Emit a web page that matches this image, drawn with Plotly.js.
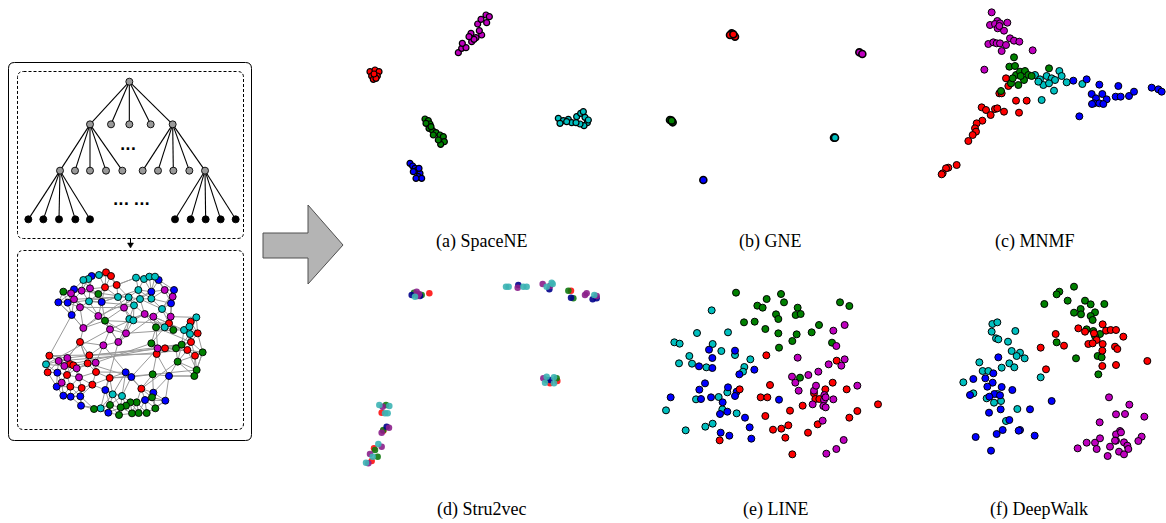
<!DOCTYPE html>
<html><head><meta charset="utf-8">
<script src="https://cdn.plot.ly/plotly-3.0.1.min.js"></script>
<style>html,body{margin:0;padding:0;background:#fff}#chart{width:1166px;height:523px}</style>
</head><body><div id="chart"></div>
<script>
// ---------------- DATA ----------------
// Captions
const captions = ["(a) SpaceNE", "(b) GNE", "(c) MNMF", "(d) Stru2vec", "(e) LINE", "(f) DeepWalk"];

// Tree diagram nodes (local units), parent index, fill type
const treeX = [388, 270,333,388,452,518, 180,225,270,318,367, 428,474,520,568,615, 85,130,177,226,270, 525,572,617,662,707];
const treeY = [80, 208,208,208,208,208, 347,347,347,347,347, 347,347,347,347,347, 493,493,493,493,493, 493,493,493,493,493];
const treeParent = [-1, 0,0,0,0,0, 1,1,1,1,1, 5,5,5,5,5, 6,6,6,6,6, 15,15,15,15,15];
const treeLeaf = [0, 0,0,0,0,0, 0,0,0,0,0, 0,0,0,0,0, 1,1,1,1,1, 1,1,1,1,1];

// Network illustration nodes [x, y, class]
const netNodes = [
 [318,97,'r'],[333,108,'r'],[297,105,'c'],[275,108,'b'],[265,117,'c'],[250,120,'c'],[350,135,'r'],[315,142,'r'],
 [270,145,'m'],[245,152,'m'],[222,148,'b'],[213,160,'m'],[190,155,'g'],[295,162,'g'],[222,178,'m'],[203,188,'b'],
 [175,187,'b'],[267,184,'c'],[305,186,'b'],[240,202,'m'],[215,225,'b'],[295,228,'m'],[315,242,'g'],[250,264,'m'],
 [330,268,'m'],[378,280,'m'],[240,306,'r'],[310,316,'m'],[355,306,'m'],
 [408,113,'c'],[432,117,'c'],[448,110,'c'],[465,110,'c'],[476,120,'b'],[415,150,'c'],[454,155,'b'],[494,150,'m'],
 [522,150,'b'],[518,170,'m'],[354,171,'c'],[386,172,'c'],[420,177,'c'],[454,176,'c'],[513,190,'b'],[402,196,'c'],
 [372,203,'m'],[486,207,'c'],[434,222,'m'],[460,230,'m'],[512,230,'m'],[388,237,'c'],[400,241,'c'],[507,250,'r'],
 [572,245,'r'],[589,232,'c'],[468,262,'g'],[494,262,'c'],[520,270,'g'],[552,270,'c'],[568,260,'c'],[570,282,'c'],
 [593,280,'r'],[454,310,'g'],[473,325,'m'],[495,325,'r'],[528,325,'g'],[545,314,'g'],[573,306,'r'],[562,330,'r'],
 [470,342,'r'],[608,337,'g'],[585,347,'r'],[533,365,'g'],
 [148,347,'r'],[176,363,'m'],[202,354,'m'],[138,373,'c'],[193,378,'m'],[210,372,'r'],[220,376,'r'],[230,385,'m'],
 [268,346,'r'],[263,370,'r'],[287,368,'m'],[143,397,'r'],[172,398,'b'],[201,405,'r'],[237,412,'m'],[288,396,'r'],
 [185,428,'m'],[170,440,'b'],[211,440,'r'],[245,444,'r'],[277,434,'r'],[329,414,'r'],[190,467,'b'],[212,470,'b'],
 [241,469,'b'],[243,497,'b'],
 [377,397,'b'],[394,411,'b'],[458,403,'g'],[507,408,'b'],[590,390,'g'],[583,408,'g'],[316,450,'b'],[338,463,'c'],
 [366,468,'c'],[424,446,'r'],[460,458,'b'],[456,472,'g'],[435,480,'b'],[410,487,'g'],[391,487,'g'],[378,497,'g'],
 [362,502,'g'],[282,507,'g'],[302,505,'c'],[330,495,'g'],[325,518,'b'],[357,525,'g'],[396,520,'g'],[416,519,'g'],
 [440,519,'g'],[466,505,'g'],[496,482,'b']
];
// Long edges of the network [x1,y1,x2,y2]
const netLongEdges = [
 [148,347,470,342],[176,363,562,330],[202,354,545,314],[210,372,573,306],[268,346,495,325],[287,368,454,310],
 [138,373,330,268],[215,225,148,347],[240,306,202,354],[295,228,454,155],[305,186,415,150],[330,268,434,222],
 [355,306,460,230],[378,280,520,270],[310,316,377,397],[355,306,316,450],[329,414,458,403],[458,403,590,390],
 [507,408,583,408],[424,446,533,365],[394,411,473,325],[250,264,386,172],[222,178,354,171],[315,242,507,250],
 [240,202,372,203],[288,396,377,397],[263,370,394,411],[215,225,250,264],[175,187,215,225],[240,306,263,370],
 [190,155,315,142],[203,188,354,171],[245,152,386,172],[267,184,402,196],[222,178,295,228],[350,135,408,113],
 [420,177,486,207],[454,176,513,190],[460,230,552,270],[434,222,494,262],[512,230,589,232],[468,262,573,306]
];

// (a) SpaceNE
const spaceneM = [[325,158],[335,145],[348,143],[337,130],[365,125],[378,113],[395,105],[363,100],[388,92],[383,72],[393,58],[408,45],[418,50],[410,68],[372,118],[357,110]];
const spaceneR = [[60,215],[75,210],[87,215],[65,228],[82,228],[70,238],[78,235],[72,222]];
const spaceneG = [[225,357],[235,362],[240,372],[237,385],[248,392],[258,398],[270,405],[280,410],[283,425],[272,433],[265,420],[250,405],[228,370],[243,380]];
const spaceneB = [[180,490],[188,498],[195,505],[200,512],[210,520],[205,530],[215,535],[198,535],[190,515],[207,505]];
const spaceneC = [[625,355],[640,362],[630,370],[655,358],[665,368],[680,350],[692,340],[700,335],[705,352],[712,368],[702,377],[690,372],[715,360],[678,368],[650,365]];

// (b) GNE
const gneR = [[305,100],[315,110],[300,105],[310,103]];
const gneM = [[688,157],[697,162]];
const gneG = [[120,360],[128,367],[125,362]];
const gneC = [[612,413],[615,413]];
const gneB = [[220,540]];

// (c) MNMF
const mnmfM = [[275,37],[292,63],[270,75],[285,72],[300,70],[322,68],[293,85],[312,92],[298,78],[265,132],[280,127],[290,130],[300,130],[318,135],[330,115],[342,122],[358,125],[305,153],[398,151],[253,209]];
const mnmfG = [[342,172],[328,200],[345,198],[348,225],[360,215],[375,213],[385,225],[372,240],[355,255],[333,250],[303,273],[447,205],[338,235],[362,228],[395,228]];
const mnmfC = [[405,225],[420,238],[440,228],[455,235],[465,240],[478,213],[485,228],[500,247],[547,252],[462,272],[425,300],[430,255],[447,250],[415,245]];
const mnmfB = [[520,242],[560,238],[598,254],[655,258],[575,282],[588,295],[607,282],[620,298],[582,310],[598,310],[610,312],[647,290],[662,290],[687,288],[702,275],[755,263],[775,268],[785,275],[538,349],[576,312]];
const mnmfR = [[318,235],[325,258],[298,280],[305,280],[348,302],[380,302],[245,322],[258,330],[272,345],[285,327],[292,325],[312,335],[357,338],[247,362],[230,370],[225,385],[228,395],[218,405],[205,423],[170,495],[145,503],[138,505],[128,520],[125,523]];

// (d) Stru2vec
const struC = [[195,110],[468,80],[476,80],[520,80],[530,80],[590,80],[605,68],[608,72],[733,105],[590,350],[612,352],[585,368],[612,370],[88,435],[118,438],[105,460],[113,460],[85,552],[68,590],[48,608]];
const struM = [[200,95],[207,102],[203,108],[503,83],[578,72],[600,78],[705,105],[710,100],[740,108],[580,355],[98,440],[117,503],[95,518],[95,560],[60,582],[55,610]];
const struB = [[185,105],[210,108],[505,75],[598,88],[663,113],[728,118],[740,115],[600,360],[110,500]];
const struG = [[192,98],[215,105],[655,92],[670,115],[620,355],[590,360],[108,435],[100,510],[75,570],[83,590]];
const struR = [[238,100],[663,92],[600,370],[622,363],[95,458],[100,512],[72,565],[65,603]];

// (e) LINE
const lineG = [[288,68],[380,87],[423,72],[432,97],[352,107],[368,113],[473,113],[408,133],[467,135],[482,132],[415,147],[312,157],[344,155],[376,177],[415,190],[470,193],[515,187],[537,165],[457,213],[417,233],[576,218],[600,97],[628,108],[480,323]];
const lineM = [[614,165],[580,182],[589,228],[614,268],[566,283],[604,287],[473,263],[456,320],[466,338],[505,315],[535,305],[476,362],[522,362],[528,347],[553,375],[552,390],[580,388],[557,382],[518,403],[550,408],[557,412],[548,452],[652,347],[611,510],[589,537],[559,551]];
const lineR = [[379,256],[590,272],[578,338],[390,345],[299,358],[362,382],[382,382],[556,358],[620,358],[522,370],[526,387],[538,387],[488,407],[450,422],[376,438],[445,466],[424,476],[399,479],[436,503],[504,488],[533,463],[628,443],[652,423],[714,403],[239,511],[457,553]];
const lineC = [[215,121],[171,189],[264,187],[103,217],[119,221],[218,222],[244,243],[285,255],[148,258],[117,280],[156,281],[199,292],[313,291],[309,305],[331,268],[262,367],[236,381],[168,388],[247,418],[290,430],[78,421],[218,461],[196,470],[137,481]];
const lineB = [[207,239],[285,242],[217,264],[177,289],[217,294],[343,299],[298,313],[195,340],[178,359],[264,352],[290,365],[285,378],[213,382],[183,387],[92,382],[248,397],[262,425],[240,432],[315,443],[329,472],[417,389],[242,488],[268,497],[334,506]];

// (f) DeepWalk
const dwG = [[462,50],[418,65],[410,73],[373,102],[443,92],[495,92],[512,103],[553,102],[482,117],[462,128],[483,133],[525,127],[512,138],[518,150],[500,178],[520,183],[540,192],[525,198],[410,217],[468,265],[533,258],[545,262],[535,313]];
const dwR = [[548,163],[475,175],[495,185],[522,190],[558,182],[572,180],[588,180],[530,210],[505,222],[518,220],[548,222],[610,200],[585,230],[592,237],[547,242],[407,192],[432,227],[362,233],[547,288],[588,285],[682,273],[378,298]];
const dwC = [[217,162],[232,157],[215,185],[286,183],[228,205],[235,208],[264,215],[275,243],[300,248],[290,258],[314,265],[245,293],[268,280],[283,292],[178,277],[188,303],[205,303],[130,337],[160,370],[200,385],[222,398],[243,393],[292,417],[258,453],[362,322],[232,372]];
const dwB = [[235,262],[220,310],[160,327],[196,325],[218,338],[202,350],[245,351],[277,360],[150,375],[223,372],[240,376],[208,380],[242,418],[207,428],[330,418],[395,393],[268,450],[248,480],[300,480],[296,482],[230,492],[167,501],[344,497],[213,542]];
const dwM = [[567,382],[628,404],[588,433],[615,432],[673,440],[539,457],[600,483],[588,493],[603,487],[665,500],[655,513],[500,518],[525,518],[540,505],[473,535],[530,537],[570,530],[588,512],[612,517],[622,527],[625,537],[597,545],[612,553],[563,558],[585,512]];

// ---------------- STYLE / LAYOUT ----------------
const COL = {r:'#ff0000', b:'#0000ff', c:'#00bfbf', m:'#bf00bf', g:'#008000'};
const COLD = {r:'#ff1010', b:'#00008b', c:'#3cb4b4', m:'#8b1f8b', g:'#0f7a0f'};
const W = 1166, H = 523;
const layout = {
  width: W, height: H, margin:{l:0,r:0,t:0,b:0}, showlegend:false,
  paper_bgcolor:'#fff', plot_bgcolor:'rgba(0,0,0,0)',
  shapes: [], annotations: []
};
const traces = [];
function setAx(n, x0, y0, w, h, full) {
  const xs = n===1?'xaxis':'xaxis'+n, ys = n===1?'yaxis':'yaxis'+n;
  layout[xs] = {domain:[x0/W,(x0+w)/W], range: full?[0,w]:[0,3*w], visible:false, fixedrange:true, anchor: n===1?'y':'y'+n};
  layout[ys] = {domain:[1-(y0+h)/H, 1-y0/H], range: full?[h,0]:[3*h,0], visible:false, fixedrange:true, anchor: n===1?'x':'x'+n};
}
setAx(1, 0, 0, W, H, true);       // decoration / captions (pixel units)
setAx(2, 350, 0, 260, 200);       // a
setAx(3, 630, 0, 260, 200);       // b
setAx(4, 900, 0, 266, 200);       // c
setAx(5, 350, 260, 280, 220);     // d
setAx(6, 640, 270, 260, 200);     // e
setAx(7, 920, 270, 246, 200);     // f
setAx(8, 0, 55, 260, 190);        // tree
setAx(9, 0, 240, 260, 200);       // network

function sc(pts, color, n, size, lw, lineColor, opacity) {
  traces.push({type:'scatter', mode:'markers', xaxis:'x'+n, yaxis:'y'+n,
    x: pts.map(p=>p[0]), y: pts.map(p=>p[1]), hoverinfo:'skip',
    marker:{color:color, size:size, opacity: opacity===undefined?1:opacity,
      line:{color:lineColor||'#000', width:lw}}});
}

// --- decorations
function rr(x0,y0,x1,y1,r){
  return `M${x0+r},${y0} L${x1-r},${y0} Q${x1},${y0} ${x1},${y0+r} L${x1},${y1-r} Q${x1},${y1} ${x1-r},${y1} L${x0+r},${y1} Q${x0},${y1} ${x0},${y1-r} L${x0},${y0+r} Q${x0},${y0} ${x0+r},${y0} Z`;
}
layout.shapes.push({type:'path', xref:'x', yref:'y', path: rr(8.5,62.5,251.5,440.5,6), line:{color:'#000', width:1}});
layout.shapes.push({type:'path', xref:'x', yref:'y', path: rr(17.5,71.5,243.5,238.5,6), line:{color:'#000', width:1, dash:'3px,2px'}});
layout.shapes.push({type:'path', xref:'x', yref:'y', path: rr(17.5,250.5,243.5,429.5,6), line:{color:'#000', width:1, dash:'3px,2px'}});
layout.shapes.push({type:'line', xref:'x', yref:'y', x0:130.5, y0:238, x1:130.5, y1:245, line:{color:'#000', width:1}});
layout.shapes.push({type:'path', xref:'x', yref:'y', path:'M127.5,243 L133.5,243 L130.5,248 Z', fillcolor:'#000', line:{color:'#000', width:0.5}});
layout.shapes.push({type:'path', xref:'x', yref:'y', path:'M263,233 L308,233 L308,205 L343,245 L308,284 L308,258 L263,258 Z', fillcolor:'#b4b4b4', line:{color:'#505050', width:1}});

// --- tree
const ex=[], ey=[];
treeX.forEach((x,i)=>{ const p=treeParent[i]; if(p>=0){ ex.push(treeX[p], x, null); ey.push(treeY[p], treeY[i], null);} });
traces.push({type:'scatter', mode:'lines', xaxis:'x8', yaxis:'y8', x:ex, y:ey, hoverinfo:'skip', line:{color:'#000', width:1.1}});
traces.push({type:'scatter', mode:'markers', xaxis:'x8', yaxis:'y8', x:treeX, y:treeY, hoverinfo:'skip',
  marker:{size:7, color: treeLeaf.map(l=>l?'#000':'#999'), line:{color:'#000', width:0.9}}});
layout.annotations.push({xref:'x8', yref:'y8', x:385, y:270, text:'<b>...</b>', showarrow:false, font:{family:'DejaVu Sans', size:14, color:'#000'}, yanchor:'middle'});
layout.annotations.push({xref:'x8', yref:'y8', x:395, y:435, text:'<b>... ...</b>', showarrow:false, font:{family:'DejaVu Sans', size:14, color:'#000'}, yanchor:'middle'});

// --- network edges: each node linked to its nearest neighbours, plus long edges
const nx=[], ny=[];
const seen = new Set();
netNodes.forEach((a,i)=>{
  const d = netNodes.map((b,j)=>[j, (a[0]-b[0])**2+(a[1]-b[1])**2]).filter(q=>q[0]!==i).sort((p,q)=>p[1]-q[1]);
  for(let k=0;k<5;k++){ const j=d[k][0]; const key=Math.min(i,j)+'-'+Math.max(i,j); if(seen.has(key)) continue; seen.add(key);
    nx.push(a[0], netNodes[j][0], null); ny.push(a[1], netNodes[j][1], null); }
});
netLongEdges.forEach(e=>{ nx.push(e[0],e[2],null); ny.push(e[1],e[3],null); });
traces.push({type:'scatter', mode:'lines', xaxis:'x9', yaxis:'y9', x:nx, y:ny, hoverinfo:'skip', line:{color:'#9a9a9a', width:1}});
['r','b','c','m','g'].forEach(k=>{
  sc(netNodes.filter(p=>p[2]===k), COL[k], 9, 7, 0.9);
});

// --- panels
sc(spaceneM, COL.m, 2, 6, 1.2); sc(spaceneR, COL.r, 2, 6, 1.2); sc(spaceneG, COL.g, 2, 6, 1.2); sc(spaceneB, COL.b, 2, 6, 1.2); sc(spaceneC, COL.c, 2, 6, 1.2);
sc(gneR, COL.r, 3, 7, 1.6); sc(gneM, COL.m, 3, 7, 1.6); sc(gneG, COL.g, 3, 7, 1.6); sc(gneC, COL.c, 3, 7, 1.6); sc(gneB, COL.b, 3, 7, 1.6);
sc(mnmfM, COL.m, 4, 7, 1); sc(mnmfC, COL.c, 4, 7, 1); sc(mnmfB, COL.b, 4, 7, 1); sc(mnmfR, COL.r, 4, 7, 1); sc(mnmfG, COL.g, 4, 7, 1);
sc(struR, COLD.r, 5, 6.5, 0, COLD.r, 0.9); sc(struG, COLD.g, 5, 6.5, 0, COLD.g, 0.9); sc(struB, COLD.b, 5, 6.5, 0, COLD.b, 0.9); sc(struM, COLD.m, 5, 6.5, 0, COLD.m, 0.9); sc(struC, COLD.c, 5, 6.5, 0, COLD.c, 0.9);
sc(lineG, COL.g, 6, 7, 1); sc(lineC, COL.c, 6, 7, 1); sc(lineB, COL.b, 6, 7, 1); sc(lineR, COL.r, 6, 7, 1); sc(lineM, COL.m, 6, 7, 1);
sc(dwG, COL.g, 7, 7, 1); sc(dwC, COL.c, 7, 7, 1); sc(dwB, COL.b, 7, 7, 1); sc(dwR, COL.r, 7, 7, 1); sc(dwM, COL.m, 7, 7, 1);

// --- captions
const capPos = [[481,241],[770,241],[1035,241],[481,509],[775,509],[1039,509]];
captions.forEach((t,i)=>layout.annotations.push({xref:'x', yref:'y', x:capPos[i][0], y:capPos[i][1], text:t, showarrow:false,
  font:{family:'Liberation Serif, Times New Roman, serif', size:18, color:'#000'}, xanchor:'center', yanchor:'middle'}));

Plotly.newPlot('chart', traces, layout, {displayModeBar:false, staticPlot:true});
</script></body></html>
